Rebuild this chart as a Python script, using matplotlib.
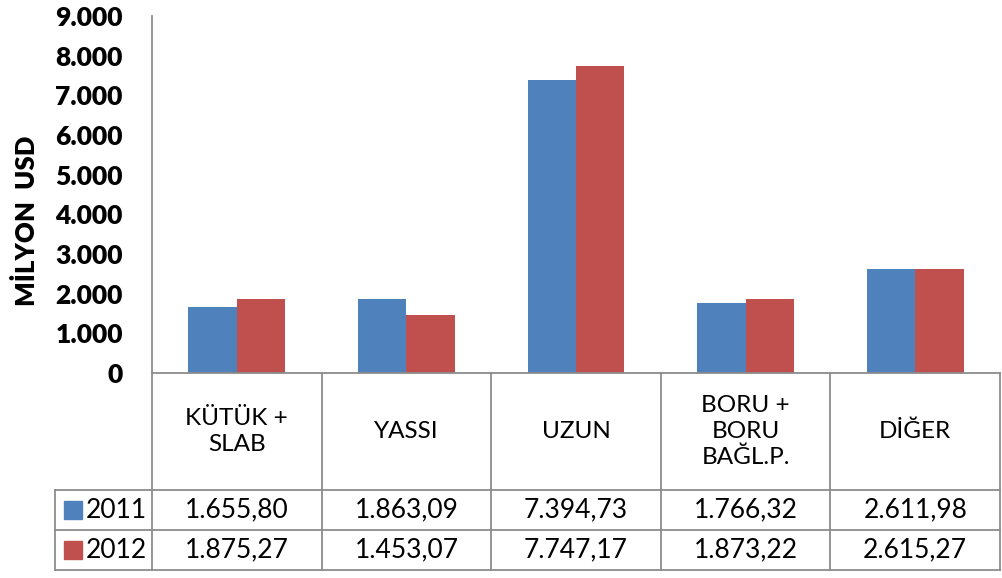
import matplotlib
matplotlib.use("Agg")
import matplotlib.pyplot as plt
import numpy as np

categories = ["KÜTÜK +\nSLAB", "YASSI", "UZUN", "BORU +\nBORU\nBAĞL.P.", "DİĞER"]
series_names = ["2011", "2012"]
values_2011 = [1655.80, 1863.09, 7394.73, 1766.32, 2611.98]
values_2012 = [1875.27, 1453.07, 7747.17, 1873.22, 2615.27]
colors = ["#4F81BD", "#C0504D"]
y_ticks = [0, 1000, 2000, 3000, 4000, 5000, 6000, 7000, 8000, 9000]


def tr_num(v, dec):
    s = f"{v:,.{dec}f}"
    return s.replace(",", "X").replace(".", ",").replace("X", ".")


plt.rcParams["font.family"] = ["Lato", "DejaVu Sans"]

W, H = 1003, 578
fig = plt.figure(figsize=(W / 100, H / 100), dpi=100)

# pixel layout
x0, x1 = 152, 1000
y_top, y_zero = 16, 373
row1, row2, row3 = 490, 530, 570
lab_left = 55
grid_col = "#8c8c8c"

ax = fig.add_axes([x0 / W, 1 - y_zero / H, (x1 - x0) / W, (y_zero - y_top) / H])
n = len(categories)
x = np.arange(n)
bw = 0.285
ax.bar(x - bw / 2, values_2011, bw, color=colors[0])
ax.bar(x + bw / 2, values_2012, bw, color=colors[1])
ax.set_xlim(-0.5, n - 0.5)
ax.set_ylim(0, 9000)
ax.set_yticks(y_ticks)
ax.set_yticklabels([tr_num(t, 0) for t in y_ticks], fontsize=19, fontweight="heavy")
ax.tick_params(axis="y", length=0, pad=21)
ax.set_xticks([])
for s in ["top", "right", "bottom", "left"]:
    ax.spines[s].set_visible(False)
ax.set_ylabel("MİLYON  USD", fontsize=18.5, fontweight="heavy")
ax.yaxis.set_label_coords(-0.133, 0.426)

# data table drawn in pixel space
tb = fig.add_axes([0, 0, 1, 1])
tb.set_xlim(0, W)
tb.set_ylim(H, 0)
tb.axis("off")
col_w = (x1 - x0) / n
lw = 1.3
tb.plot([x0, x0], [y_top, row3], color=grid_col, lw=lw)
tb.plot([x0, x1], [y_zero, y_zero], color=grid_col, lw=lw)
for i in range(1, n + 1):
    xc = x0 + i * col_w
    tb.plot([xc, xc], [y_zero, row3], color=grid_col, lw=lw)
for yy in [row1, row2, row3]:
    tb.plot([lab_left, x1], [yy, yy], color=grid_col, lw=lw)
tb.plot([lab_left, lab_left], [row1, row3], color=grid_col, lw=lw)

for i, cat in enumerate(categories):
    xc = x0 + (i + 0.5) * col_w
    tb.text(xc, (y_zero + row1) / 2, cat, ha="center", va="center",
            fontsize=17.5, linespacing=1.25)
    tb.text(xc, (row1 + row2) / 2, tr_num(values_2011[i], 2), ha="center",
            va="center", fontsize=19)
    tb.text(xc, (row2 + row3) / 2, tr_num(values_2012[i], 2), ha="center",
            va="center", fontsize=19)

for j, (name, c) in enumerate(zip(series_names, colors)):
    yc = (row1 + row2) / 2 if j == 0 else (row2 + row3) / 2
    tb.add_patch(plt.Rectangle((64, yc - 9), 18, 18, color=c))
    tb.text(86, yc, name, ha="left", va="center", fontsize=19)

fig.savefig("out.png", dpi=100)
